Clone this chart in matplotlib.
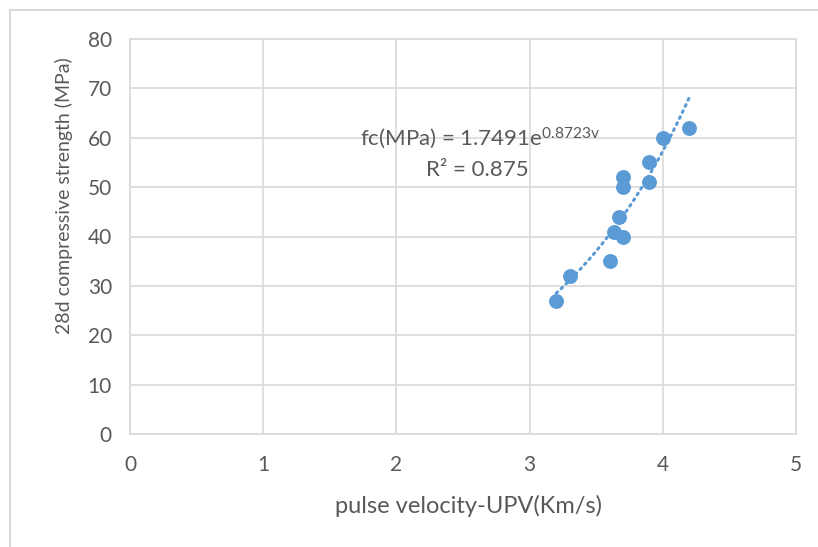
import numpy as np
import matplotlib.pyplot as plt
from matplotlib.lines import Line2D

# data
upv = [3.2, 3.3, 3.6, 3.63, 3.67, 3.7, 3.7, 3.7, 3.9, 3.9, 4.0, 4.2]
fc = [27, 32, 35, 41, 44, 40, 50, 52, 51, 55, 60, 62]
coef_a = 1.7491
coef_b = 0.8723
r2 = 0.875
x_ticks = [0, 1, 2, 3, 4, 5]
y_ticks = [0, 10, 20, 30, 40, 50, 60, 70, 80]

plt.rcParams['font.family'] = ['Lato', 'DejaVu Sans']
plt.rcParams['mathtext.default'] = 'regular'
txt = '#595959'
grid_c = '#d9d9d9'
blue = '#5b9bd5'

fig = plt.figure(figsize=(8.18, 5.47), dpi=100, facecolor='white')
ax = fig.add_axes([130 / 818, 1 - 434 / 547, 666 / 818, 395 / 547])

# outer chart frame
fig.add_artist(Line2D([10 / 818, 1], [1 - 10 / 547] * 2, color=grid_c, lw=1.5))
fig.add_artist(Line2D([10 / 818] * 2, [0, 1 - 10 / 547], color=grid_c, lw=1.5))

# exponential trend line over the data range
xt = np.linspace(min(upv), max(upv), 100)
ax.plot(xt, coef_a * np.exp(coef_b * xt), color=blue, lw=2.2,
        linestyle=(0, (0.6, 1.6)), dash_capstyle='round', zorder=2)
ax.scatter(upv, fc, s=115, color=blue, zorder=3, linewidths=0)

ax.set_xlim(0, 5)
ax.set_ylim(0, 80)
ax.set_xticks(x_ticks)
ax.set_yticks(y_ticks)
ax.grid(True, color=grid_c, lw=1.2)
ax.set_axisbelow(True)
for s in ax.spines.values():
    s.set_color(grid_c)
    s.set_linewidth(1.2)
ax.tick_params(length=0, labelsize=15, colors=txt)
ax.tick_params(axis='y', pad=13)
ax.tick_params(axis='x', pad=15)

ax.set_xlabel('pulse velocity-UPV(Km/s)', fontsize=17, color=txt)
ax.set_ylabel('28d compressive strength (MPa)', fontsize=14, color=txt)
ax.xaxis.set_label_coords(0.508, -0.155)
ax.yaxis.set_label_coords(-0.085, 0.603)

ax.text(2.63, 59.9, 'fc(MPa) = %.4fe$^{%.4fv}$' % (coef_a, coef_b),
        ha='center', va='center', fontsize=16, color=txt)
ax.text(2.61, 53.4, 'R² = %.3f' % r2, ha='center', va='center', fontsize=16, color=txt)

fig.savefig('out.png', dpi=100, facecolor='white')
